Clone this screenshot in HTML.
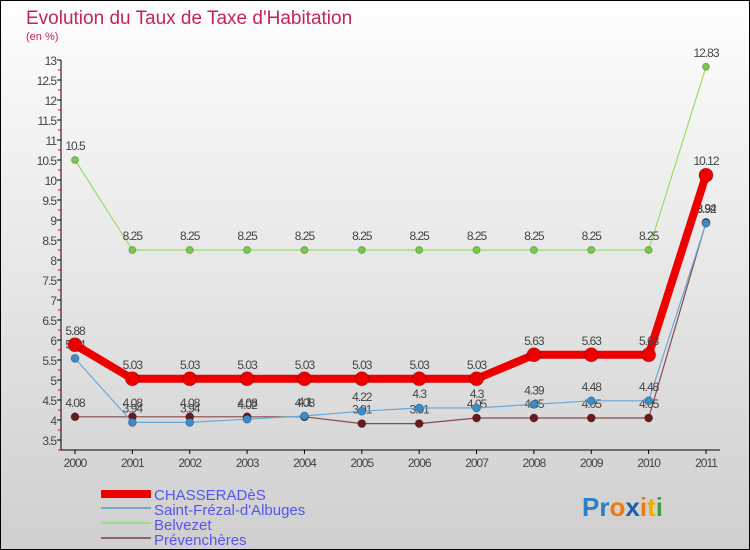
<!DOCTYPE html>
<html><head><meta charset="utf-8"><style>
body{margin:0}
#c{width:750px;height:550px;position:relative;box-sizing:border-box;border:1px solid #000;background:linear-gradient(#fefefe,#cfcfcf);font-family:"Liberation Sans",sans-serif;overflow:hidden}
</style></head><body>
<div id="c">
<svg id="s" width="750" height="550" style="position:absolute;left:-1px;top:-1px">
<text x="26" y="24" font-size="19" fill="#c4245a">Evolution du Taux de Taxe d'Habitation</text>
<text x="26" y="40" font-size="11" fill="#c4245a">(en %)</text>
<g id="ax"></g><g id="ser"></g>
<g font-size="15" fill="#5555ee">
<rect x="101" y="490" width="50" height="8" fill="#ee0000"/>
<text x="154" y="500">CHASSERADèS</text>
<rect x="101" y="507" width="50" height="2" fill="#7aa7c7"/>
<text x="154" y="515">Saint-Frézal-d'Albuges</text>
<rect x="101" y="522" width="50" height="2" fill="#99dd88"/>
<text x="154" y="530">Belvezet</text>
<rect x="101" y="537" width="50" height="2" fill="#8b6464"/>
<text x="154" y="545">Prévenchères</text>
</g>
<g font-size="26" font-weight="bold">
<text x="582" y="516"><tspan fill="#2a7fc8">Pr</tspan><tspan fill="#f07a10">o</tspan><tspan fill="#1a5fb0">x</tspan><tspan fill="#f07a10">i</tspan><tspan fill="#e8b000">t</tspan><tspan fill="#3aa040">i</tspan></text>
</g>
</svg>
</div>
<script>
const years=[2000,2001,2002,2003,2004,2005,2006,2007,2008,2009,2010,2011];
const yTicks=[3.5,4,4.5,5,5.5,6,6.5,7,7.5,8,8.5,9,9.5,10,10.5,11,11.5,12,12.5,13];
const chasserades=[5.88,5.03,5.03,5.03,5.03,5.03,5.03,5.03,5.63,5.63,5.63,10.12];
const saintFrezal=[5.54,3.94,3.94,4.02,4.1,4.22,4.3,4.3,4.39,4.48,4.48,8.92];
const belvezet=[10.5,8.25,8.25,8.25,8.25,8.25,8.25,8.25,8.25,8.25,8.25,12.83];
const prevencheres=[4.08,4.08,4.08,4.08,4.08,3.91,3.91,4.05,4.05,4.05,4.05,8.94];
const NS="http://www.w3.org/2000/svg";
const X=i=>75+i*(706-75)/(years.length-1);
const Y=v=>440-(v-3.5)*40;
function mk(t,a,p){const e=document.createElementNS(NS,t);for(const k in a)e.setAttribute(k,a[k]);p.appendChild(e);return e;}
const ax=document.getElementById('ax');
let l=mk('line',{x1:61,y1:Y(13),x2:61,y2:450,stroke:'#000'},ax);


l=mk('line',{x1:61,y1:450,x2:720,y2:450,stroke:'#000'},ax);


yTicks.forEach(v=>{
  mk('line',{x1:57,y1:Y(v),x2:61,y2:Y(v),stroke:'#000'},ax);
  mk('line',{x1:58,y1:Y(v)+10,x2:61,y2:Y(v)+10,stroke:'#e00'},ax);
  const t=mk('text',{x:56,y:Y(v)+5,'text-anchor':'end','font-size':12,fill:'#444','letter-spacing':'-1'},ax);
  t.textContent=v;
  
  
});
years.forEach((y,i)=>{
  mk('line',{x1:X(i),y1:450,x2:X(i),y2:454,stroke:'#000'},ax);
  const t=mk('text',{x:X(i),y:467,'text-anchor':'middle','font-size':12,fill:'#444','letter-spacing':'-1'},ax);
  t.textContent=y;
  
  
});
const ser=document.getElementById('ser');
function draw(data,name,color,w,r,dot){
  const g=mk('g',{},ser);
  
  
  const p=mk('polyline',{points:data.map((v,i)=>X(i)+','+Y(v)).join(' '),fill:'none',stroke:color,'stroke-width':w,'stroke-linejoin':'round'},g);
  
  
  data.forEach((v,i)=>{
    const c=mk('circle',{cx:X(i),cy:Y(v),r:r,fill:dot,stroke:'rgba(0,0,0,0.25)'},g);
    
    
    const t=mk('text',{x:X(i),y:Y(v)-10,'text-anchor':'middle','font-size':12,fill:'#444','letter-spacing':'-1'},g);
    t.textContent=v;
    
    
  });
}
draw(belvezet,'belvezet','#99dd66',1.2,3.5,'#77cc44');
draw(prevencheres,'prevencheres','#8b4a4a',1.2,4,'#6a1a1a');
draw(saintFrezal,'saint-frezal','#6aa8d8',1.2,4,'#3a8ccc');
draw(chasserades,'chasserades','#ee0000',8,7,'#ee0000');
</script>
</body></html>
